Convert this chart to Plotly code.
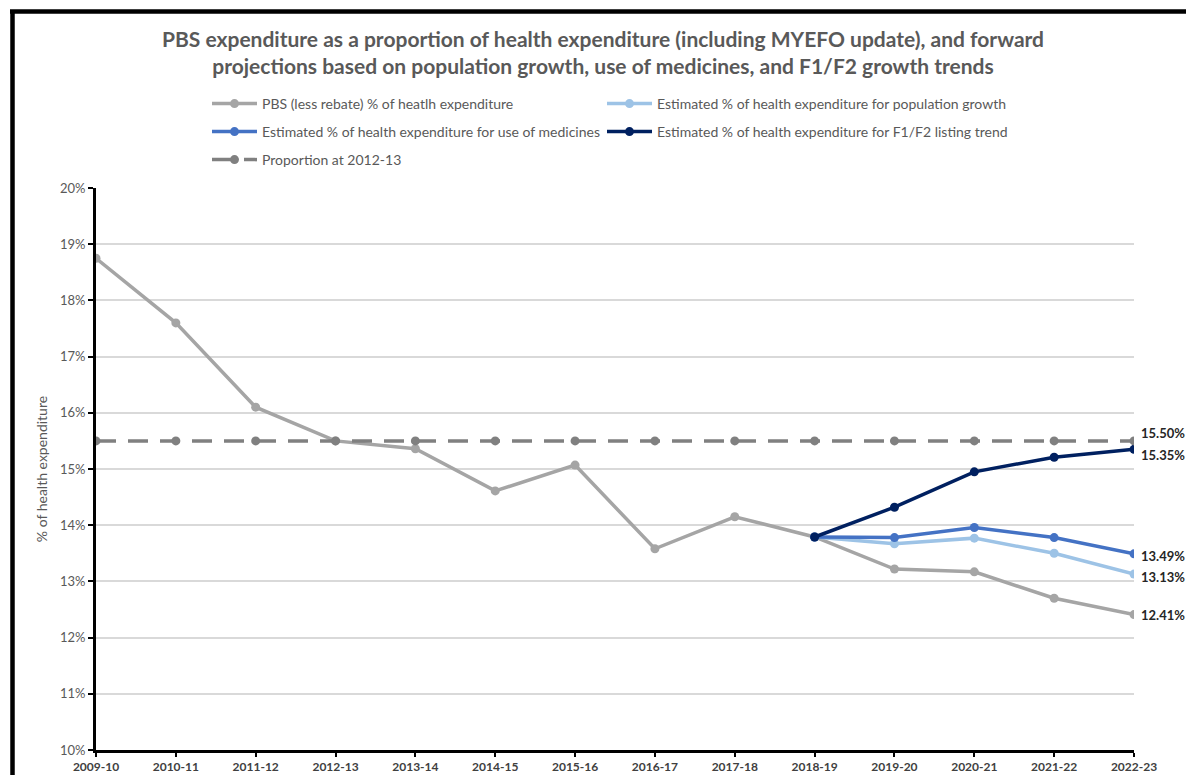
import plotly.graph_objects as go

years = ["2009-10", "2010-11", "2011-12", "2012-13", "2013-14", "2014-15", "2015-16",
         "2016-17", "2017-18", "2018-19", "2019-20", "2020-21", "2021-22", "2022-23"]
pbs_share = [18.75, 17.60, 16.10, 15.50, 15.36, 14.61, 15.07, 13.58, 14.15, 13.79,
             13.22, 13.17, 12.70, 12.41]
proj_years = ["2018-19", "2019-20", "2020-21", "2021-22", "2022-23"]
pop_growth = [13.79, 13.67, 13.77, 13.50, 13.13]
use_medicines = [13.79, 13.78, 13.96, 13.78, 13.49]
f1f2_trend = [13.79, 14.32, 14.95, 15.21, 15.35]
prop_2012_13 = [15.50] * len(years)

names = ["PBS (less rebate) % of heatlh expenditure",
         "Estimated % of health expenditure for population growth",
         "Estimated % of health expenditure for use of medicines",
         "Estimated % of health expenditure for F1/F2 listing trend",
         "Proportion at 2012-13"]

FONT = "Lato, 'Liberation Sans', Arial, sans-serif"
GREY_TXT = "#595959"

# page body has an 8px margin; figure sized to fit the 1194x783 window exactly
OFF = 8
W, H = 1194 - 2 * OFF, 783 - 2 * OFF
ML = 96 - OFF
MT = 188 - OFF
MR = W - (1134 - OFF)
MB = H - (750 - OFF)
PW, PH = W - ML - MR, H - MT - MB


def px_x(p):
    return (p - OFF - ML) / PW


def px_y(p):
    return (H - MB - (p - OFF)) / PH


fig = go.Figure()

fig.add_trace(go.Scatter(x=years, y=pbs_share, name=names[0], mode="lines+markers",
                         line=dict(color="#A5A5A5", width=3.5), marker=dict(size=9, color="#A5A5A5"),
                         legend="legend"))
fig.add_trace(go.Scatter(x=proj_years, y=pop_growth, name=names[1], mode="lines+markers",
                         line=dict(color="#9DC3E6", width=3.5), marker=dict(size=9, color="#9DC3E6"),
                         legend="legend2"))
fig.add_trace(go.Scatter(x=proj_years, y=use_medicines, name=names[2], mode="lines+markers",
                         line=dict(color="#4472C4", width=3.5), marker=dict(size=9, color="#4472C4"),
                         legend="legend3"))
fig.add_trace(go.Scatter(x=proj_years, y=f1f2_trend, name=names[3], mode="lines+markers",
                         line=dict(color="#002060", width=3.5), marker=dict(size=9, color="#002060"),
                         legend="legend4"))
fig.add_trace(go.Scatter(x=years, y=prop_2012_13, name=names[4], mode="lines+markers",
                         line=dict(color="#808080", width=3.5, dash="20px,12px"),
                         marker=dict(size=9, color="#808080"),
                         legend="legend5"))

# end-of-series value labels
end_labels = [(prop_2012_13[-1], 8), (f1f2_trend[-1], -6), (use_medicines[-1], -2),
              (pop_growth[-1], -3), (pbs_share[-1], 0)]
for val, ys in end_labels:
    fig.add_annotation(x=years[-1], y=val, xref="x", yref="y", text=f"<b>{val:.2f}%</b>",
                       showarrow=False, xanchor="left", xshift=5, yshift=ys,
                       font=dict(family=FONT, size=13, color="#262626"))

leg_common = dict(orientation="v", itemwidth=45,
                  font=dict(family=FONT, size=14, color=GREY_TXT),
                  bgcolor="rgba(0,0,0,0)", xanchor="left", yanchor="middle",
                  itemclick=False, itemdoubleclick=False)
lx1 = px_x(207)
lx2 = px_x(602)

# border frame (left and top black lines)
fig.add_shape(type="line", xref="paper", yref="paper", x0=px_x(12.5), x1=px_x(12.5),
              y0=px_y(11), y1=px_y(800), line=dict(color="black", width=4.5), layer="above")
fig.add_shape(type="line", xref="paper", yref="paper", x0=px_x(10), x1=px_x(1210),
              y0=px_y(11.5), y1=px_y(11.5), line=dict(color="black", width=4.5), layer="above")

fig.update_layout(
    width=W, height=H,
    margin=dict(l=ML, r=MR, t=MT, b=MB, autoexpand=False),
    paper_bgcolor="white", plot_bgcolor="white",
    font=dict(family=FONT, color=GREY_TXT),
    title=dict(text="<b>PBS expenditure as a proportion of health expenditure (including MYEFO update), and forward<br>"
                    "projections based on population growth, use of medicines, and F1/F2 growth trends</b>",
               x=(603 - OFF) / W, xref="container", xanchor="center",
               y=1 - (47 - OFF) / H, yref="container", yanchor="middle",
               font=dict(family=FONT, size=21, color=GREY_TXT)),
    legend=dict(x=lx1, y=px_y(104), **leg_common),
    legend2=dict(x=lx2, y=px_y(104), **leg_common),
    legend3=dict(x=lx1, y=px_y(132), **leg_common),
    legend4=dict(x=lx2, y=px_y(132), **leg_common),
    legend5=dict(x=lx1, y=px_y(160), **leg_common),
    xaxis=dict(type="category", range=[0, len(years) - 1], showgrid=False,
               showline=True, linecolor="black", linewidth=3,
               ticks="outside", ticklen=4, tickwidth=2, tickcolor="black",
               tickfont=dict(family=FONT, size=12, color="#404040", weight="bold"), zeroline=False),
    yaxis=dict(range=[10, 20], dtick=1, ticksuffix="%", showgrid=True,
               gridcolor="#D9D9D9", gridwidth=1.5,
               showline=True, linecolor="black", linewidth=3,
               ticks="outside", ticklen=5, tickwidth=2, tickcolor="black",
               tickfont=dict(family=FONT, size=13, color=GREY_TXT), zeroline=False,
               title=dict(text="% of health expenditure", standoff=10,
                          font=dict(family=FONT, size=14, color=GREY_TXT))),
    showlegend=True,
)

fig.write_html("out.html")
